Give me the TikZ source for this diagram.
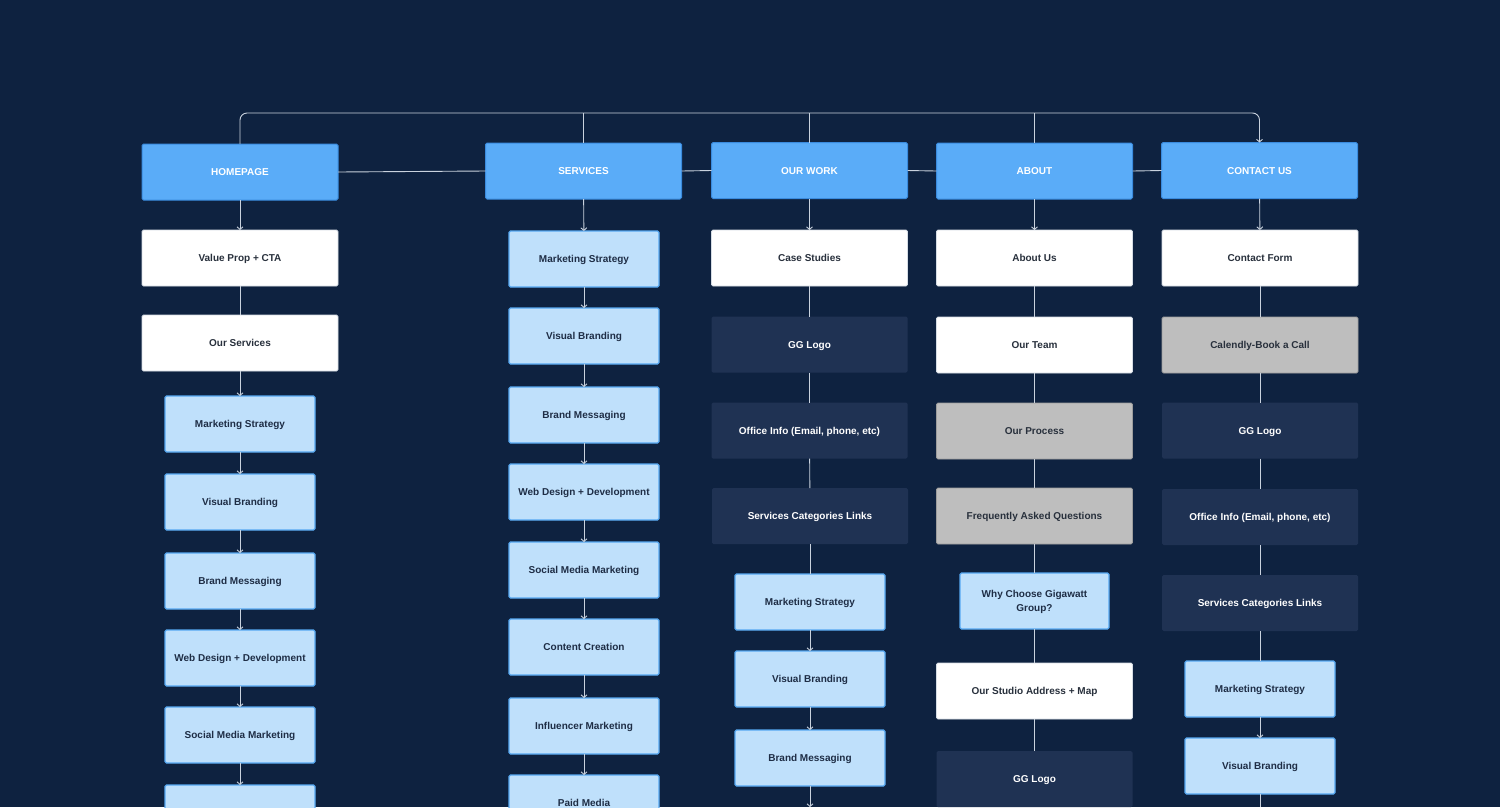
\documentclass[tikz,border=0pt]{standalone}
\usepackage{fontspec}
\setmainfont{Liberation Sans}
\usetikzlibrary{arrows.meta}
\definecolor{bg}{HTML}{0E2240}
\definecolor{topfill}{HTML}{5AACF8}
\definecolor{topdraw}{HTML}{3A8BDE}
\definecolor{lightfill}{HTML}{BFE0FB}
\definecolor{lightdraw}{HTML}{56A8F2}
\definecolor{darkfill}{HTML}{1F3253}
\definecolor{grayfill}{HTML}{BEBEBE}
\definecolor{graydraw}{HTML}{9C9C9C}
\definecolor{whitedraw}{HTML}{D5DCE4}
\definecolor{linec}{HTML}{C9D2DE}
\definecolor{txtdark}{HTML}{28303C}
\definecolor{txtnavy}{HTML}{1E2D45}
\tikzset{
  box/.style={rectangle, rounded corners=1.5pt, inner sep=0pt, outer sep=0pt,
    minimum width=196pt, minimum height=56pt, align=center,
    text height=7.2pt, text depth=0pt,
    font=\bfseries\fontsize{10}{14.5}\selectfont},
  topbox/.style={box, fill=topfill, draw=topdraw, line width=1pt, text=white},
  whitebox/.style={box, fill=white, draw=whitedraw, line width=0.8pt, text=txtdark},
  lightbox/.style={box, fill=lightfill, draw=lightdraw, line width=1.2pt, text=txtnavy, minimum width=150pt},
  darkbox/.style={box, fill=darkfill, text=white},
  graybox/.style={box, fill=grayfill, draw=graydraw, line width=0.8pt, text=txtdark},
  conn/.style={draw=linec, line width=0.9pt},
  arr/.style={conn, -{Straight Barb[length=2.6pt,width=6pt]}}
}
\begin{document}
\begin{tikzpicture}[x=1pt,y=-1pt]
\useasboundingbox (0,0) rectangle (1500,807);
\clip (0,0) rectangle (1500,807);
\fill[bg] (0,0) rectangle (1500,807);

% top level
\node[topbox] (hp) at (240,172) {HOMEPAGE};
\node[topbox] (sv) at (583.5,171) {SERVICES};
\node[topbox] (ow) at (809.5,170.5) {OUR WORK};
\node[topbox] (ab) at (1034.5,171) {ABOUT};
\node[topbox] (cu) at (1259.5,170.5) {CONTACT US};
\coordinate (top) at (0,113);
\coordinate (bot) at (0,807);

% column 1
\node[whitebox] (vp) at (240,258) {Value Prop + CTA};
\node[whitebox] (os) at (240,343) {Our Services};
\node[lightbox] (ms1) at (240,424) {Marketing Strategy};
\node[lightbox] (vb1) at (240,502) {Visual Branding};
\node[lightbox] (bm1) at (240,581) {Brand Messaging};
\node[lightbox] (wd1) at (240,658) {Web Design + Development};
\node[lightbox] (sm1) at (240,735) {Social Media Marketing};
\node[lightbox] (cc1) at (240,813) {};

% column 2
\node[lightbox] (ms2) at (584,259) {Marketing Strategy};
\node[lightbox] (vb2) at (584,336) {Visual Branding};
\node[lightbox] (bm2) at (584,415) {Brand Messaging};
\node[lightbox] (wd2) at (584,492) {Web Design + Development};
\node[lightbox] (sm2) at (584,570) {Social Media Marketing};
\node[lightbox] (cc2) at (584,647) {Content Creation};
\node[lightbox] (im2) at (584,726) {Influencer Marketing};
\node[lightbox] (pm2) at (584,803) {Paid Media};

% column 3
\node[whitebox] (cs3) at (809.5,258) {Case Studies};
\node[darkbox] (gg3) at (809.5,344.5) {GG Logo};
\node[darkbox] (oi3) at (809.5,430.5) {Office Info (Email, phone, etc)};
\node[darkbox] (sc3) at (810,516) {Services Categories Links};
\node[lightbox] (ms3) at (810,602) {Marketing Strategy};
\node[lightbox] (vb3) at (810,679) {Visual Branding};
\node[lightbox] (bm3) at (810,758) {Brand Messaging};

% column 4
\node[whitebox] (au4) at (1034.5,258) {About Us};
\node[whitebox] (ot4) at (1034.5,345) {Our Team};
\node[graybox] (op4) at (1034.5,431) {Our Process};
\node[graybox] (fq4) at (1034.5,516) {Frequently Asked Questions};
\node[lightbox, minimum width=149pt, text height=21.7pt] (wc4) at (1034.5,601) {Why Choose Gigawatt\\Group?};
\node[whitebox] (sa4) at (1034.5,691) {Our Studio Address + Map};
\node[darkbox] (gg4) at (1034.5,779) {GG Logo};

% column 5
\node[whitebox] (cf5) at (1260,258) {Contact Form};
\node[graybox] (ca5) at (1260,345) {Calendly-Book a Call};
\node[darkbox] (gg5) at (1260,430.5) {GG Logo};
\node[darkbox] (oi5) at (1260,517) {Office Info (Email, phone, etc)};
\node[darkbox] (sc5) at (1260,603) {Services Categories Links};
\node[lightbox] (ms5) at (1260,689) {Marketing Strategy};
\node[lightbox] (vb5) at (1260,766) {Visual Branding};

% top connectors
\draw[arr, rounded corners=7pt] (hp.north) |- (cu.north |- top) -- (cu.north);
\draw[conn] (sv.north |- top) -- (sv.north);
\draw[conn] (ow.north |- top) -- (ow.north);
\draw[conn] (ab.north |- top) -- (ab.north);
\draw[conn] (hp.east) -- (sv.west);
\draw[conn] (sv.east) -- (ow.west);
\draw[conn] (ow.east) -- (ab.west);
\draw[conn] (ab.east) -- (cu.west);

% column 1 connectors
\draw[arr] (hp) -- (vp);
\draw[conn] (vp) -- (os);
\draw[arr] (os) -- (ms1);
\draw[arr] (ms1) -- (vb1);
\draw[arr] (vb1) -- (bm1);
\draw[arr] (bm1) -- (wd1);
\draw[arr] (wd1) -- (sm1);
\draw[arr] (sm1) -- (cc1);

% column 2 connectors
\draw[arr] (sv) -- (ms2);
\draw[arr] (ms2) -- (vb2);
\draw[arr] (vb2) -- (bm2);
\draw[arr] (bm2) -- (wd2);
\draw[arr] (wd2) -- (sm2);
\draw[arr] (sm2) -- (cc2);
\draw[arr] (cc2) -- (im2);
\draw[arr] (im2) -- (pm2);

% column 3 connectors
\draw[arr] (ow) -- (cs3);
\draw[conn] (cs3) -- (gg3);
\draw[conn] (gg3) -- (oi3);
\draw[conn] (oi3) -- (sc3);
\draw[conn] (sc3) -- (ms3);
\draw[arr] (ms3) -- (vb3);
\draw[arr] (vb3) -- (bm3);
\draw[arr] (bm3.south) -- (bm3.south |- bot);

% column 4 connectors
\draw[arr] (ab) -- (au4);
\draw[conn] (au4) -- (ot4);
\draw[conn] (ot4) -- (op4);
\draw[conn] (op4) -- (fq4);
\draw[conn] (fq4) -- (wc4);
\draw[conn] (wc4) -- (sa4);
\draw[conn] (sa4) -- (gg4);

% column 5 connectors
\draw[arr] (cu) -- (cf5);
\draw[conn] (cf5) -- (ca5);
\draw[conn] (ca5) -- (gg5);
\draw[conn] (gg5) -- (oi5);
\draw[conn] (oi5) -- (sc5);
\draw[conn] (sc5) -- (ms5);
\draw[arr] (ms5) -- (vb5);
\draw[conn] (vb5.south) -- (vb5.south |- bot);
\end{tikzpicture}
\end{document}
